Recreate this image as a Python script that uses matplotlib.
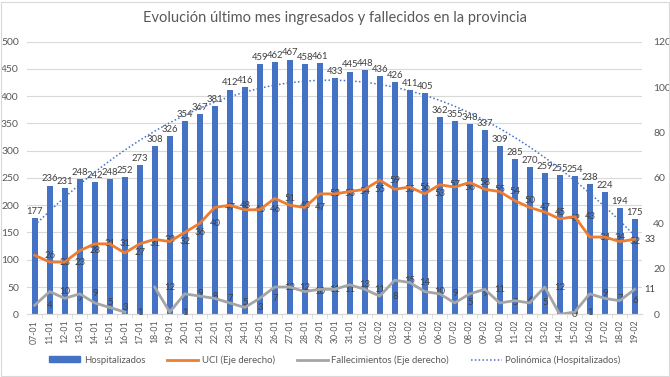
''' evolucion hospitalizados / uci / fallecimientos '''
import numpy as np
import matplotlib.pyplot as plt
from matplotlib.lines import Line2D
from matplotlib.patches import Rectangle

plt.rcParams['font.family'] = ['Lato', 'DejaVu Sans']

fechas = ['07-01', '11-01', '12-01', '13-01', '14-01', '15-01', '16-01', '17-01', '18-01', '19-01',
          '20-01', '21-01', '22-01', '23-01', '24-01', '25-01', '26-01', '27-01', '28-01', '29-01',
          '30-01', '31-01', '01-02', '02-02', '03-02', '04-02', '05-02', '06-02', '07-02', '08-02',
          '09-02', '10-02', '11-02', '12-02', '13-02', '14-02', '15-02', '16-02', '17-02', '18-02',
          '19-02']
hospitalizados = [177, 236, 231, 248, 242, 248, 252, 273, 308, 326, 354, 367, 381, 412, 416,
                  459, 462, 467, 458, 461, 433, 445, 448, 436, 426, 411, 405, 362, 355, 348,
                  337, 309, 285, 270, 259, 255, 254, 238, 224, 194, 175]
uci = [26, 23, 23, 28, 31, 31, 27, 31, 33, 32, 36, 40, 47, 48, 46, 46, 51, 48, 47, 53,
       53, 54, 55, 59, 55, 56, 53, 57, 56, 58, 55, 54, 50, 47, 45, 42, 43, 34, 34, 32, 33]
fallecimientos = [4, 10, 7, 9, 5, 3, 1, np.nan, 12, 1, 9, 8, 7, 5, 3, 7, 12, 12, 10, 11,
                  11, 13, 11, 8, 15, 14, 10, 9, 5, 9, 11, 5, 6, 5, 12, 0, 1, 9, 7, 6, 11]

azul = '#4472C4'
naranja = '#ED7D31'
gris = '#A5A5A5'
texto = '#595959'

x = np.arange(len(fechas))

fig = plt.figure(figsize=(6.7, 3.77), dpi=100)
ax = fig.add_axes([0.0406, 0.1663, 0.9179, 0.7234])
ax2 = ax.twinx()

ax.bar(x, hospitalizados, width=0.4, color=azul, zorder=2)
for xi, v in zip(x, hospitalizados):
    ax.annotate(str(v), (xi, v), xytext=(0, 1.5), textcoords='offset points',
                ha='center', va='bottom', fontsize=6.8, color='#404040')

# tendencia polinomica (orden 2) sobre los hospitalizados
coef = np.polyfit(x + 1, hospitalizados, 2)
ax.plot(x, np.polyval(coef, x + 1), color=azul, lw=1.1, ls=(0, (1, 1.5)), zorder=3)

ax2.plot(x, uci, color=naranja, lw=2, zorder=4)
ax2.plot(x, fallecimientos, color=gris, lw=2, zorder=4)
for xi, v in zip(x, uci):
    ax2.annotate(str(v), (xi, v), xytext=(11, 0), textcoords='offset points',
                 ha='center', va='center', fontsize=6.8, color='#404040')
for xi, v in zip(x, fallecimientos):
    if np.isnan(v):
        continue
    ax2.annotate(str(int(v)), (xi, v), xytext=(11, 0), textcoords='offset points',
                 ha='center', va='center', fontsize=6.8, color='#404040')

ax.set_ylim(0, 500)
ax.set_yticks(range(0, 501, 50))
ax2.set_ylim(0, 120)
ax2.set_yticks(range(0, 121, 20))
ax.set_xlim(-0.5, len(fechas) - 0.5)
ax.set_xticks(x)
ax.set_xticklabels(fechas, rotation=90, fontsize=6.3, color=texto)
ax.set_xticks(x[:-1] + 0.5, minor=True)
ax.tick_params(axis='x', which='major', length=0, pad=4)
ax.tick_params(axis='x', which='minor', length=3, color='#D9D9D9')
ax.tick_params(axis='y', length=0, labelsize=7.5, labelcolor=texto, pad=6)
ax2.tick_params(axis='y', length=0, labelsize=7.5, labelcolor=texto, pad=8)

ax.grid(axis='y', color='#D9D9D9', lw=0.8, zorder=0)
ax.set_axisbelow(True)
for a in (ax, ax2):
    for s in ('top', 'left', 'right'):
        a.spines[s].set_visible(False)
    a.spines['bottom'].set_color('#D9D9D9')

fig.text(0.5, 0.952, 'Evolución último mes ingresados y fallecidos en la provincia',
         ha='center', va='center', fontsize=10.5, color=texto)

handles = [
    Rectangle((0, 0), 1, 1, color=azul),
    Line2D([], [], color=naranja, lw=2),
    Line2D([], [], color=gris, lw=2),
    Line2D([], [], color=azul, lw=1.1, ls=(0, (1, 1.5))),
]
labels = ['Hospitalizados', 'UCI (Eje derecho)', 'Fallecimientos (Eje derecho)',
          'Polinómica (Hospitalizados)']
leg = fig.legend(handles, labels, loc='center', bbox_to_anchor=(0.5, 0.045), ncol=4,
                 frameon=False, fontsize=6.9, handlelength=3.2, handleheight=0.6,
                 columnspacing=2.3, handletextpad=0.4)
for t in leg.get_texts():
    t.set_color(texto)

fig.patches.append(Rectangle((0.001, 0.003), 0.997, 0.993, transform=fig.transFigure,
                             fill=False, edgecolor='#D9D9D9', lw=0.8))

fig.savefig('out.png', dpi=100)
